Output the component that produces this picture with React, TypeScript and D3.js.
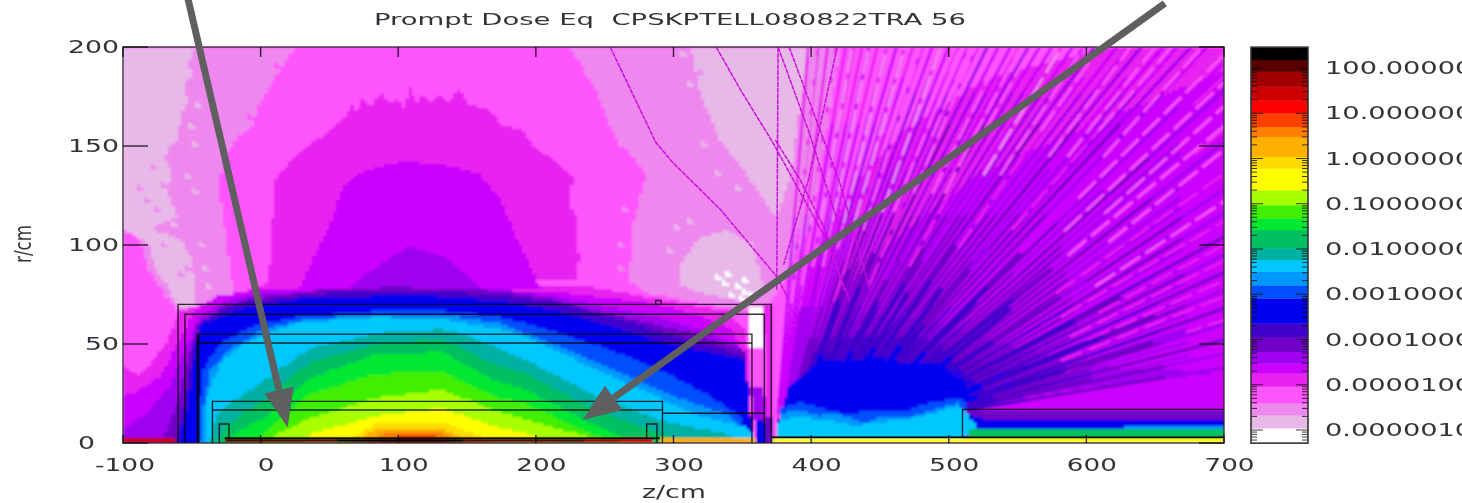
import React, { useMemo } from "react";
import * as d3 from "d3";

type P = [number, number];

const TITLE = "Prompt Dose Eq  CPSKPTELL080822TRA 56";
const X_TICKS = [-100, 0, 100, 200, 300, 400, 500, 600, 700];
const Y_TICKS = [0, 50, 100, 150, 200];
const LEGEND_LABELS: [number, string][] = [
  [2, "100.0000000"], [1, "10.0000000"], [0, "1.0000000"], [-1, "0.1000000"], [-2, "0.0100000"],
  [-3, "0.0010000"], [-4, "0.0001000"], [-5, "0.0000100"], [-6, "0.0000010"],
];

// palette: index 0 is the lowest dose band, 27 the highest
const BAND_COLORS = [
  "#ffffff", "#e8b8e8", "#ee88ee", "#ff55ff", "#e820f0", "#cc00ff", "#a000f0", "#7000c8",
  "#4000cc", "#0000f0", "#0050ff", "#0098ff", "#00c8ff", "#00b0a0", "#00c060", "#00e830",
  "#40f000", "#a8ff00", "#ffff00", "#ffdc00", "#ffb000", "#ff8000", "#ff4000", "#ff0000",
  "#cc0000", "#a00000", "#5a0000", "#000000",
];
// log10 dose of each band edge, lowest to highest
const BAND_EDGES = [
  -6.29, -5.96, -5.67, -5.41, -5.04, -4.75, -4.53, -4.27, -3.94, -3.64, -3.09, -2.8, -2.5, -2.24,
  -1.98, -1.58, -1.32, -1.03, -0.7, -0.22, 0.04, 0.48, 0.7, 1.0, 1.29, 1.59, 1.92, 2.18, 2.46,
];

// dose regions [band, outline in (z cm, r cm)], painted in order
const LEFT_HALO_2: P[] = [[-100,200],[25,200],[8,182],[-2,170],[-6,160],[-17,155],[-26,144],[-31,129],[-28,119],[-24,96],[-21,81],[-19,73],[-48,67],[-60,67],[-81,87],[-88,103],[-100,109]];
const LEFT_HALO_1: P[] = [[-100,200],[-48,200],[-52,192],[-50,186],[-55,182],[-53,172],[-58,166],[-60,153],[-66,150],[-70,144],[-64,136],[-68,128],[-60,114],[-70,112],[-79,108],[-68,106],[-57,103],[-50,92],[-48,82],[-48,69],[-60,69],[-68,80],[-77,89],[-82,102],[-100,108]];
const RIGHT_HALO_2: P[] = [[225,200],[244,178],[256,157],[280,136],[270,109],[268,82],[280,76],[352,67],[374,72],[399,108],[421,200]];
const RIGHT_HALO_1: P[] = [[313,200],[319,178],[334,153],[348,141],[375,114],[385,135],[392,170],[400,200]];
const RIGHT_POCKET_1: P[] = [[304,89],[319,104],[339,108],[357,101],[366,77],[352,72],[326,75],[304,80]];
const SHELL_4: P[] = [[-100,39],[-88,34],[-70,49],[-59,67],[-19,75],[5,81],[230,80],[241,79],[280,74],[304,71],[339,67],[353,57],[355,32],[357,0],[-100,0]];
const DOME_4: P[] = [[5,81],[8,103],[10,133],[20,141],[30,148],[39,153],[50,158],[61,164],[66,172],[70,166],[73,175],[80,170],[88,177],[94,172],[99,174],[104,170],[109,180],[113,172],[117,177],[124,172],[130,177],[137,172],[144,179],[150,172],[158,170],[163,170],[176,161],[190,158],[202,148],[215,142],[229,133],[224,128],[226,119],[231,112],[229,103],[232,94],[229,82]];
const DOME_5: P[] = [[28,78],[33,86],[49,109],[61,131],[70,136],[83,139],[95,141],[107,143],[118,141],[130,141],[145,139],[159,136],[174,124],[183,109],[193,94],[201,82],[205,78]];
const SHELL_5: P[] = [[-100,24],[-88,27],[-73,34],[-59,52],[-48,67],[-33,74],[-12,77],[5,78],[210,77],[246,74],[283,71],[319,65],[344,57],[352,42],[355,22],[359,0],[-100,0]];
const DOME_6: P[] = [[63,78],[78,86],[100,96],[108,99],[135,94],[154,82],[160,78]];
const SHELL_6: P[] = [[-100,7],[-81,17],[-66,29],[-55,47],[-44,65],[-26,72],[-1,76],[28,77],[101,79],[174,78],[210,75],[246,70],[283,65],[319,58],[348,49],[352,32],[355,12],[357,0],[-100,0]];
const SHELL_7: P[] = [[-73,0],[-62,17],[-53,42],[-46,60],[-26,70],[-1,74],[50,78],[101,79],[174,77],[210,73],[246,67],[283,61],[319,55],[352,47],[354,22],[355,0]];
const SHELL_8: P[] = [[-62,0],[-55,22],[-48,52],[-41,63],[-15,71],[50,76],[112,77],[174,75],[217,71],[261,63],[304,54],[352,44],[355,22],[357,0]];
const SHELL_9: P[] = [[-59,0],[-52,22],[-48,47],[-44,60],[-15,68],[28,73],[112,75],[174,72],[217,67],[261,58],[304,49],[352,42],[355,22],[358,0]];
const SHELL_10: P[] = [[-46,0],[-44,22],[-41,39],[-26,52],[-4,60],[28,64],[86,67],[132,67],[174,64],[217,56],[254,47],[290,37],[326,24],[348,14],[357,0]];
const SHELL_11: P[] = [[-44,0],[-41,22],[-36,38],[-19,49],[3,58],[36,63],[86,65],[132,65],[174,61],[217,49],[261,36],[304,23],[341,14],[357,4],[359,0]];
const SHELL_12: P[] = [[-41,0],[-39,24],[-28,42],[-8,52],[26,61],[84,64],[132,63],[174,58],[193,54],[241,38],[290,23],[314,15],[355,8],[361,0]];
const SHELL_13: P[] = [[-37,0],[-32,15],[-19,22],[-1,30],[36,48],[84,56],[132,58],[145,56],[193,42],[241,25],[290,12],[339,5],[358,0]];
const SHELL_14: P[] = [[-33,0],[-24,10],[7,24],[36,41],[84,50],[132,53],[169,40],[193,35],[241,18],[283,7],[312,0]];
const SHELL_15: P[] = [[-25,0],[-21,4],[7,15],[36,33],[84,45],[132,46],[169,32],[193,27],[241,10],[275,0]];
const SHELL_16: P[] = [[-8,0],[7,8],[36,25],[84,35],[132,36],[169,24],[193,20],[241,5],[265,0]];
const SHELL_17: P[] = [[1,0],[7,3],[36,13],[84,23],[132,27],[169,17],[193,12],[241,3],[250,0]];
const SHELL_18: P[] = [[28,0],[36,5],[84,14],[132,18],[169,9],[193,5],[220,0]];
const SHELL_19: P[] = [[58,0],[84,10],[132,11],[159,4],[170,0]];
const SHELL_20: P[] = [[66,0],[84,7.5],[132,8],[155,0]];
const SHELL_21: P[] = [[74,0],[92,6],[130,6],[148,0]];
const SHELL_22: P[] = [[84,0],[100,4],[126,4],[138,0]];
const WALL_WHITE: P[] = [[355,69],[365,69],[365,48],[355,48]];
const WALL_PINK: P[] = [[355,48],[366,48],[366,28],[356,28]];
const WALL_MID: P[] = [[356,28],[366,28],[367,12],[357,12]];
const WALL_BLUE: P[] = [[359,12],[366,12],[368,0],[360,0]];
const WALL_OUTER: P[] = [[366,70],[372,70],[372,12],[367,12]];
const WALL_OUTER_LOW: P[] = [[366,14],[372,14],[372,0],[367,0]];
const FAN_3: P[] = [[372,0],[372,72],[399,108],[376,22],[376,0]];
const FAN_4: P[] = [[376,22],[399,90],[430,130],[470,160],[530,185],[620,200],[700,200],[700,0],[376,0]];
const FAN_5: P[] = [[381,12],[413,70],[464,105],[520,135],[600,160],[700,188],[700,0],[381,0]];
const FAN_6: P[] = [[384,12],[405,50],[440,66],[500,60],[560,46],[620,38],[700,36],[600,28],[515,19],[384,3]];
const FAN_7: P[] = [[381,30],[410,52],[450,56],[500,50],[540,36],[525,25],[512,17],[375,7]];
const FAN_8: P[] = [[379,24],[396,42],[408,48],[450,50],[496,45],[522,32],[519,24],[512,17],[374,7]];
const FAN_9: P[] = [[376,12],[384,29],[396,36],[408,42],[426,41],[446,44],[470,40],[493,40],[505,34],[512,32],[515,24],[510,19],[376,3]];
const FAN_10: P[] = [[377,17],[392,21],[410,17],[428,15],[450,17],[470,16],[482,20],[508,23],[512,20],[512,3],[376,3]];
const FAN_11: P[] = [[377,15],[392,17],[405,14],[420,15],[428,13],[440,10],[450,14],[470,13],[495,18],[508,21],[512,3],[376,3]];
const FAN_12: P[] = [[376,11],[392,14],[405,12],[421,11],[432,9],[450,11],[468,12],[493,16],[506,19],[510,17],[510,3],[376,3]];

const REGIONS: [number, P[]][] = [
  [2, LEFT_HALO_2], [1, LEFT_HALO_1], [2, RIGHT_HALO_2], [1, RIGHT_HALO_1], [1, RIGHT_POCKET_1],
  [4, SHELL_4], [4, DOME_4], [5, DOME_5], [5, SHELL_5], [6, DOME_6], [6, SHELL_6], [7, SHELL_7],
  [8, SHELL_8], [9, SHELL_9], [10, SHELL_10], [11, SHELL_11], [12, SHELL_12], [13, SHELL_13],
  [14, SHELL_14], [15, SHELL_15], [16, SHELL_16], [17, SHELL_17], [18, SHELL_18], [19, SHELL_19],
  [20, SHELL_20], [21, SHELL_21], [22, SHELL_22],
  [0, WALL_WHITE], [3, WALL_PINK], [6, WALL_MID], [4, WALL_OUTER], [7, WALL_OUTER_LOW], [9, WALL_BLUE],
  [3, FAN_3], [4, FAN_4], [5, FAN_5], [6, FAN_6], [7, FAN_7],
];

// tail box at the far side
const TAIL_7: P[] = [[510,17],[700,17],[700,3],[510,3]];
const TAIL_9: P[] = [[514,15],[530,12],[700,12],[700,3],[514,3]];
const TAIL_11: P[] = [[518,8],[530,7],[610,7],[640,9],[700,9],[700,3],[518,3]];
const TAIL_12: P[] = [[510,17],[514,15],[522,7],[510,3]];
const TAIL_14: P[] = [[515,7],[700,7],[700,3],[515,3]];
// painted over the streaks
const CORE_REGIONS: [number, P[]][] = [
  [9, FAN_9], [10, FAN_10], [11, FAN_11], [12, FAN_12],
  [7, TAIL_7], [9, TAIL_9], [11, TAIL_11], [12, TAIL_12], [14, TAIL_14],
];

const WHITE_SPOTS: P[] = [[337,80],[345,78],[352,76],[350,82],[332,83],[356,74],[342,74],[339,84],[348,72]];
// scattered bins along the outer halo edges: z, r, band
const HALO_SPECKS: number[][] = [
  [-45,194,1],[-42,186,1],[-50,176,2],[-47,170,1],[-52,160,1],[-48,150,1],[-56,142,2],[-54,134,1],[-50,126,1],[-56,118,2],
  [-62,124,2],[-72,130,2],[-76,118,2],[-84,122,2],[-90,128,2],[-78,138,2],[-64,110,1],[-72,100,2],[-66,96,1],[-44,100,1],
  [-42,88,1],[-40,78,1],[-54,88,2],[-60,84,2],[-68,74,2],[12,190,3],[6,176,3],[-10,164,3],[-20,148,3],[-24,136,3],
  [236,186,2],[250,170,2],[262,150,2],[274,142,2],[264,118,2],[262,100,2],[262,88,2],[228,196,2],[318,186,2],[326,168,1],
  [340,146,1],[306,196,1],[310,180,1],[322,150,1],[330,136,1],[345,128,1],[352,120,2],[296,96,1],[300,108,1],[310,112,1],
];

// streaks: z where they leave the wall, z and r where they leave the plot, band near, band far
const DARK_STREAKS: number[][] = [
  [376,398,200,5,4],[378,412,200,5,4],[380,425,200,6,4],[382,437,200,6,4],[384,448,200,6,4],[386,462,200,7,5],
  [388,474,200,8,4],[391,488,200,8,5],[394,500,200,8,5],[396,514,200,8,5],[398,528,200,8,6],[402,545,200,8,5],
  [405,558,200,8,6],[408,575,200,8,5],[411,590,200,8,5],[414,606,200,8,6],[418,622,200,8,5],[422,640,200,8,6],
  [426,656,200,8,5],[430,676,200,8,6],[435,700,192,8,5],[440,700,178,8,6],[444,700,165,8,5],[448,700,152,8,6],
  [452,700,140,8,5],[456,700,128,9,6],[460,700,116,9,6],[465,700,104,9,7],[470,700,95,9,6],[474,700,86,9,7],
  [478,700,77,9,6],[482,700,68,9,7],[486,700,60,8,6],[490,700,52,8,7],[494,700,45,8,6],[498,700,38,8,6],
  [377,405,200,5,4],[379,418,200,5,4],[381,431,200,6,4],[383,442,200,6,5],[385,455,200,7,4],[387,468,200,7,4],
  [390,481,200,8,5],[392,494,200,8,4],[395,507,200,8,4],[397,521,200,8,5],[400,536,200,8,5],[403,551,200,8,4],
  [407,566,200,8,5],[409,582,200,8,4],[412,598,200,8,5],[416,614,200,8,4],[420,631,200,8,5],[424,648,200,8,4],
  [428,666,200,8,5],[432,688,200,8,5],[437,700,185,8,4],[442,700,171,8,5],[446,700,158,8,4],[450,700,146,8,5],
  [454,700,134,8,5],[458,700,122,8,5],[462,700,110,8,5],[467,700,99,8,5],[472,700,90,8,5],[476,700,81,8,5],
  [480,700,72,8,5],[484,700,64,8,5],[488,700,56,8,5],[492,700,48,8,5],
];
// short heavy streaks rising out of the blue core
const CORE_STREAKS: number[][] = [
  [390,428,88,9,7],[398,445,96,9,7],[404,462,92,9,6],[412,482,98,9,7],[420,505,100,9,7],[428,528,98,9,6],
  [436,552,96,9,7],[444,575,88,9,7],[452,600,82,9,6],[462,625,74,9,7],[472,650,64,9,7],[482,672,56,9,6],
  [393,420,70,9,8],[408,448,72,9,8],[418,470,76,9,8],[430,495,78,9,8],[440,520,72,9,8],[452,545,68,9,8],
];
// same as the long streaks, plus the fraction of the way at which the lighter part starts
const LIGHT_STREAKS: number[][] = [
  [378,404,200,3,2,0.3],[380,418,200,3,2,0.35],[382,430,200,3,2,0.4],[386,442,200,3,2,0.4],[390,455,200,3,2,0.45],
  [392,468,200,3,2,0.5],[396,480,200,3,3,0.5],[400,494,200,3,2,0.55],[402,508,200,3,3,0.55],[406,520,200,3,3,0.6],
  [410,540,200,4,3,0.6],[415,552,200,3,3,0.6],[420,582,200,3,2,0.65],[425,598,200,3,3,0.65],[434,632,200,3,3,0.7],
  [438,650,200,3,3,0.7],[445,684,200,3,3,0.7],[452,700,170,4,3,0.65],[460,700,148,4,3,0.65],[466,700,122,4,3,0.6],
  [472,700,100,4,4,0.6],[480,700,82,4,4,0.55],
  [436,700,196,3,3,0.6],[442,700,182,3,3,0.55],[448,700,160,4,3,0.55],[456,700,136,4,4,0.5],[463,700,112,4,4,0.5],
  [476,700,92,4,4,0.5],[484,700,74,4,4,0.45],[490,700,62,4,4,0.45],
  [395,470,200,5,3,0.3],[403,515,200,5,3,0.35],[412,560,200,5,3,0.4],[422,610,200,5,3,0.45],[430,662,200,5,3,0.5],
];

const THIN_TRACKS: P[][] = [
  [[254,200],[287,152],[299,142],[334,118],[363,94],[375,84],[384,72]],
  [[331,200],[349,178],[372,152],[387,133],[410,104],[428,72]],
  [[384,200],[421,131],[443,77]],
  [[376,200],[375,77]],
  [[374,153],[392,133],[410,108],[424,77]],
  [[376,200],[398,158],[421,108]],
  [[419,200],[398,133],[380,90]],
];

// bottom row of bins: z from, z to, band
const AXIS_ROW: number[][] = [
  [-100,-62,24],[-26,55,26],[55,148,27],[148,235,26],[235,262,25],[262,285,24],[290,360,20],[372,700,18],
];

const GEOMETRY: P[][] = [
  [[-60,0],[-60,70],[371,70],[371,0]],
  [[-55,0],[-55,65],[366,65],[366,0]],
  [[-45,0],[-45,55],[357,55],[357,0]],
  [[-46,0],[-46,55]],
  [[-45,50.5],[357,50.5]],
  [[-35,0],[-35,21],[292,21],[292,0]],
  [[-35,16.7],[292,16.7]],
  [[292,15],[366,15]],
  [[-30,0],[-30,9.6],[-23,9.6],[-23,2.5]],
  [[280.5,2.5],[280.5,9.6],[288,9.6],[288,0]],
  [[-26,2.5],[290,2.5]],
  [[-26,2.2],[290,2.2]],
  [[371,3],[700,3]],
  [[371,2.7],[700,2.7]],
  [[510,3],[510,17],[700,17]],
  [[287,70],[287,72],[291,72],[291,70]],
];

// annotation arrows: tail and tip in (z, r)
const ARROWS: [P, P][] = [
  [[-53, 225], [19.6, 8]],
  [[657, 222], [234, 11.6]],
];

const WIDTH = 1462;
const HEIGHT = 503;
const INK = "#333338";

const x = d3.scaleLinear().domain([-100, 700]).range([123, 1224]);
const y = d3.scaleLinear().domain([0, 200]).range([443, 47]);
const legendY = d3.scaleLinear().domain([2, -6]).range([68, 430]);
const CELL_Z = 2.5;
const CELL_R = 1.5;
const COLS = d3.range(-100, 700, CELL_Z);
const ROWS = d3.range(0, 200, CELL_R);

type Run = { z0: number; z1: number; r: number; band: number };

function buildRuns(regions: [number, P[]][], fill: number, specks: number[][]): Run[] {
  const grid = ROWS.map(() => COLS.map(() => fill));
  const col = (z: number) => Math.floor((z + 100) / CELL_Z);
  const row = (r: number) => Math.floor(r / CELL_R);
  for (const [band, poly] of regions) {
    const [z0, z1] = d3.extent(poly, (p) => p[0]) as [number, number];
    const [r0, r1] = d3.extent(poly, (p) => p[1]) as [number, number];
    for (let j = Math.max(0, row(r0)); j <= Math.min(ROWS.length - 1, row(r1)); j++) {
      for (let i = Math.max(0, col(z0)); i <= Math.min(COLS.length - 1, col(z1)); i++) {
        if (d3.polygonContains(poly, [COLS[i] + CELL_Z / 2, ROWS[j] + CELL_R / 2])) grid[j][i] = band;
      }
    }
  }
  for (const [z, r, band] of specks) {
    grid[row(r)][col(z)] = band;
    grid[row(r)][col(z) + 1] = band;
    grid[row(r) + 1][col(z)] = band;
  }
  const runs: Run[] = [];
  grid.forEach((cells, j) => {
    let start = 0;
    for (let i = 1; i <= cells.length; i++) {
      if (i === cells.length || cells[i] !== cells[start]) {
        if (cells[start] >= 0) runs.push({ z0: COLS[start], z1: COLS[i - 1] + CELL_Z, r: ROWS[j], band: cells[start] });
        start = i;
      }
    }
  });
  return runs;
}

// cut one streak into pieces of constant band
function streakPieces(s: number[]) {
  const [za, zb, rb, near, far, from = 0] = s;
  const at = (t: number): P => [za + (zb - za) * t, 15 + (rb - 15) * t];
  const bandAt = (t: number) => Math.round(near + (far - near) * t);
  const pieces: { a: P; b: P; band: number }[] = [];
  let t0 = from;
  const N = 24;
  for (let k = 1; k <= N; k++) {
    const t = from + ((1 - from) * k) / N;
    if (bandAt(t) !== bandAt(t0) || k === N) {
      pieces.push({ a: at(t0), b: at(t), band: bandAt(t0) });
      t0 = t;
    }
  }
  return pieces;
}

function arrowPaths(tail: P, tip: P) {
  const a = [x(tail[0]), y(tail[1])];
  const b = [x(tip[0]), y(tip[1])];
  const len = Math.hypot(b[0] - a[0], b[1] - a[1]);
  const u = [(b[0] - a[0]) / len, (b[1] - a[1]) / len];
  const m = [b[0] - u[0] * 38, b[1] - u[1] * 38];
  const n = [-u[1] * 15, u[0] * 15];
  return {
    shaft: [a, m] as [number[], number[]],
    head: `M${b[0]},${b[1]}L${m[0] + n[0]},${m[1] + n[1]}L${m[0] - n[0]},${m[1] - n[1]}Z`,
  };
}

const line = d3.line<P>().x((d) => x(d[0])).y((d) => y(d[1]));

function Cells({ runs }: { runs: Run[] }) {
  return (
    <g shapeRendering="crispEdges">
      {runs.map((c, i) => (
        <rect key={i} x={x(c.z0)} y={y(c.r + CELL_R)} width={x(c.z1) - x(c.z0) + 0.5}
          height={y(c.r) - y(c.r + CELL_R) + 0.5} fill={BAND_COLORS[c.band]} />
      ))}
    </g>
  );
}

export default function App() {
  const baseRuns = useMemo(
    () => buildRuns(REGIONS, 3, [...HALO_SPECKS, ...WHITE_SPOTS.map(([z, r]) => [z, r, 0])]),
    []
  );
  const coreRuns = useMemo(() => buildRuns(CORE_REGIONS, -1, []), []);
  const legendTicks = useMemo(() => {
    const out: { v: number; major: boolean }[] = [];
    for (let d = -7; d <= 2; d++) {
      for (let k = 1; k <= 9; k++) {
        const v = d + Math.log10(k);
        if (v > 2.46 || v < -6.29) continue;
        out.push({ v, major: k === 1 });
      }
    }
    return out;
  }, []);
  const labelFont = { fontFamily: "DejaVu Sans", fontSize: 17, fill: INK } as const;
  return (
    <svg width={WIDTH} height={HEIGHT} viewBox={`0 0 ${WIDTH} ${HEIGHT}`}
      style={{ position: "fixed", left: 0, top: 0, background: "#fff" }}>
      <defs>
        <clipPath id="plot"><rect x={x(-100)} y={y(200)} width={x(700) - x(-100)} height={y(0) - y(200)} /></clipPath>
        <filter id="soft" x="-2%" y="-2%" width="104%" height="104%"><feGaussianBlur stdDeviation="0.8" /></filter>
        <filter id="softer" x="-2%" y="-2%" width="104%" height="104%"><feGaussianBlur stdDeviation="0.45" /></filter>
      </defs>
      <g clipPath="url(#plot)">
        <g filter="url(#soft)">
          <Cells runs={baseRuns} />
          {DARK_STREAKS.flatMap(streakPieces).map((p, i) => (
            <path key={i} d={line([p.a, p.b]) ?? ""} stroke={BAND_COLORS[p.band]} strokeWidth={3} fill="none" />
          ))}
          {LIGHT_STREAKS.flatMap(streakPieces).map((p, i) => (
            <path key={i} d={line([p.a, p.b]) ?? ""} stroke={BAND_COLORS[p.band]} strokeWidth={2.6} strokeDasharray="24 6" fill="none" />
          ))}
          {CORE_STREAKS.flatMap(streakPieces).map((p, i) => (
            <path key={i} d={line([p.a, p.b]) ?? ""} stroke={BAND_COLORS[p.band]} strokeWidth={5} fill="none" />
          ))}
          <Cells runs={coreRuns} />
          {AXIS_ROW.map(([a, b, band], i) => (
            <rect key={i} x={x(a)} y={y(2.6)} width={x(b) - x(a)} height={y(0) - y(2.6)} fill={BAND_COLORS[band]} />
          ))}
        </g>
        <g filter="url(#softer)">
          {THIN_TRACKS.map((t, i) => (
            <path key={i} d={line(t) ?? ""} fill="none" stroke="#c810dc" strokeWidth={1.5} strokeDasharray="5 0.8" />
          ))}
        </g>
      </g>
      <g filter="url(#softer)" fill="none" stroke="#000" strokeOpacity={0.8} strokeWidth={1.4}>
        {GEOMETRY.map((g, i) => <path key={i} d={line(g) ?? ""} />)}
        <rect x={x(-100)} y={y(200)} width={x(700) - x(-100)} height={y(0) - y(200)} strokeWidth={1.6} stroke="#2a1a30" />
        {X_TICKS.map((t) => (
          <g key={t}>
            <line x1={x(t)} x2={x(t)} y1={y(200)} y2={y(200) + 10} />
            <line x1={x(t)} x2={x(t)} y1={y(0)} y2={y(0) - 8} />
          </g>
        ))}
        {Y_TICKS.map((t) => (
          <g key={t}>
            <line x1={x(-100)} x2={x(-100) + 25} y1={y(t)} y2={y(t)} />
            <line x1={x(700)} x2={x(700) - 25} y1={y(t)} y2={y(t)} />
          </g>
        ))}
      </g>
      {ARROWS.map(([tail, tip], i) => {
        const a = arrowPaths(tail, tip);
        return (
          <g key={i}>
            <line x1={a.shaft[0][0]} y1={a.shaft[0][1]} x2={a.shaft[1][0]} y2={a.shaft[1][1]} stroke="#5f5f5f" strokeWidth={7} />
            <path d={a.head} fill="#5f5f5f" />
          </g>
        );
      })}
      <g filter="url(#softer)">
        {BAND_COLORS.map((c, i) => (
          <rect key={i} x={1251} y={legendY(BAND_EDGES[i + 1])} width={57}
            height={legendY(BAND_EDGES[i]) - legendY(BAND_EDGES[i + 1]) + 0.3} fill={c} />
        ))}
        {legendTicks.map((t, i) => (
          <g key={i} stroke="#000" strokeWidth={0.9} strokeOpacity={0.85}>
            <line x1={1251} x2={1251 + (t.major ? 12 : 6)} y1={legendY(t.v)} y2={legendY(t.v)} />
            <line x1={1308} x2={1308 - (t.major ? 12 : 6)} y1={legendY(t.v)} y2={legendY(t.v)} />
          </g>
        ))}
        <rect x={1251} y={legendY(BAND_EDGES[28])} width={57}
          height={legendY(BAND_EDGES[0]) - legendY(BAND_EDGES[28])} fill="none" stroke="#333" strokeWidth={1.6} />
      </g>
      <g filter="url(#softer)">
        <text x={374} y={25} textLength={592} lengthAdjust="spacingAndGlyphs" {...labelFont} fontSize={16} xmlSpace="preserve">{TITLE}</text>
        {X_TICKS.map((t) => {
          const s = String(t);
          return (
            <text key={t} x={x(t) + (t < 0 ? 2 : 5.5)} y={471} textAnchor="middle" {...labelFont}
              textLength={t < 0 ? 60 : s.length * 16.7} lengthAdjust="spacingAndGlyphs">{s}</text>
          );
        })}
        {Y_TICKS.map((t) => {
          const s = String(t);
          return (
            <text key={t} x={s.length === 3 ? 68 : s.length === 2 ? 85 : 78} y={y(t) + 5.5} {...labelFont}
              textLength={s.length * 17} lengthAdjust="spacingAndGlyphs">{s}</text>
          );
        })}
        <text x={642} y={498} {...labelFont} textLength={64} lengthAdjust="spacingAndGlyphs">z/cm</text>
        <text transform="translate(31,263) rotate(-90) scale(1,1.5)" {...labelFont} fontSize={15} textLength={38} lengthAdjust="spacingAndGlyphs">r/cm</text>
        {LEGEND_LABELS.map(([v, s]) => (
          <text key={s} x={1325} y={legendY(v) + 6} {...labelFont}
            textLength={(s.length - 1) * 17.4 + 8} lengthAdjust="spacingAndGlyphs">{s}</text>
        ))}
      </g>
    </svg>
  );
}
